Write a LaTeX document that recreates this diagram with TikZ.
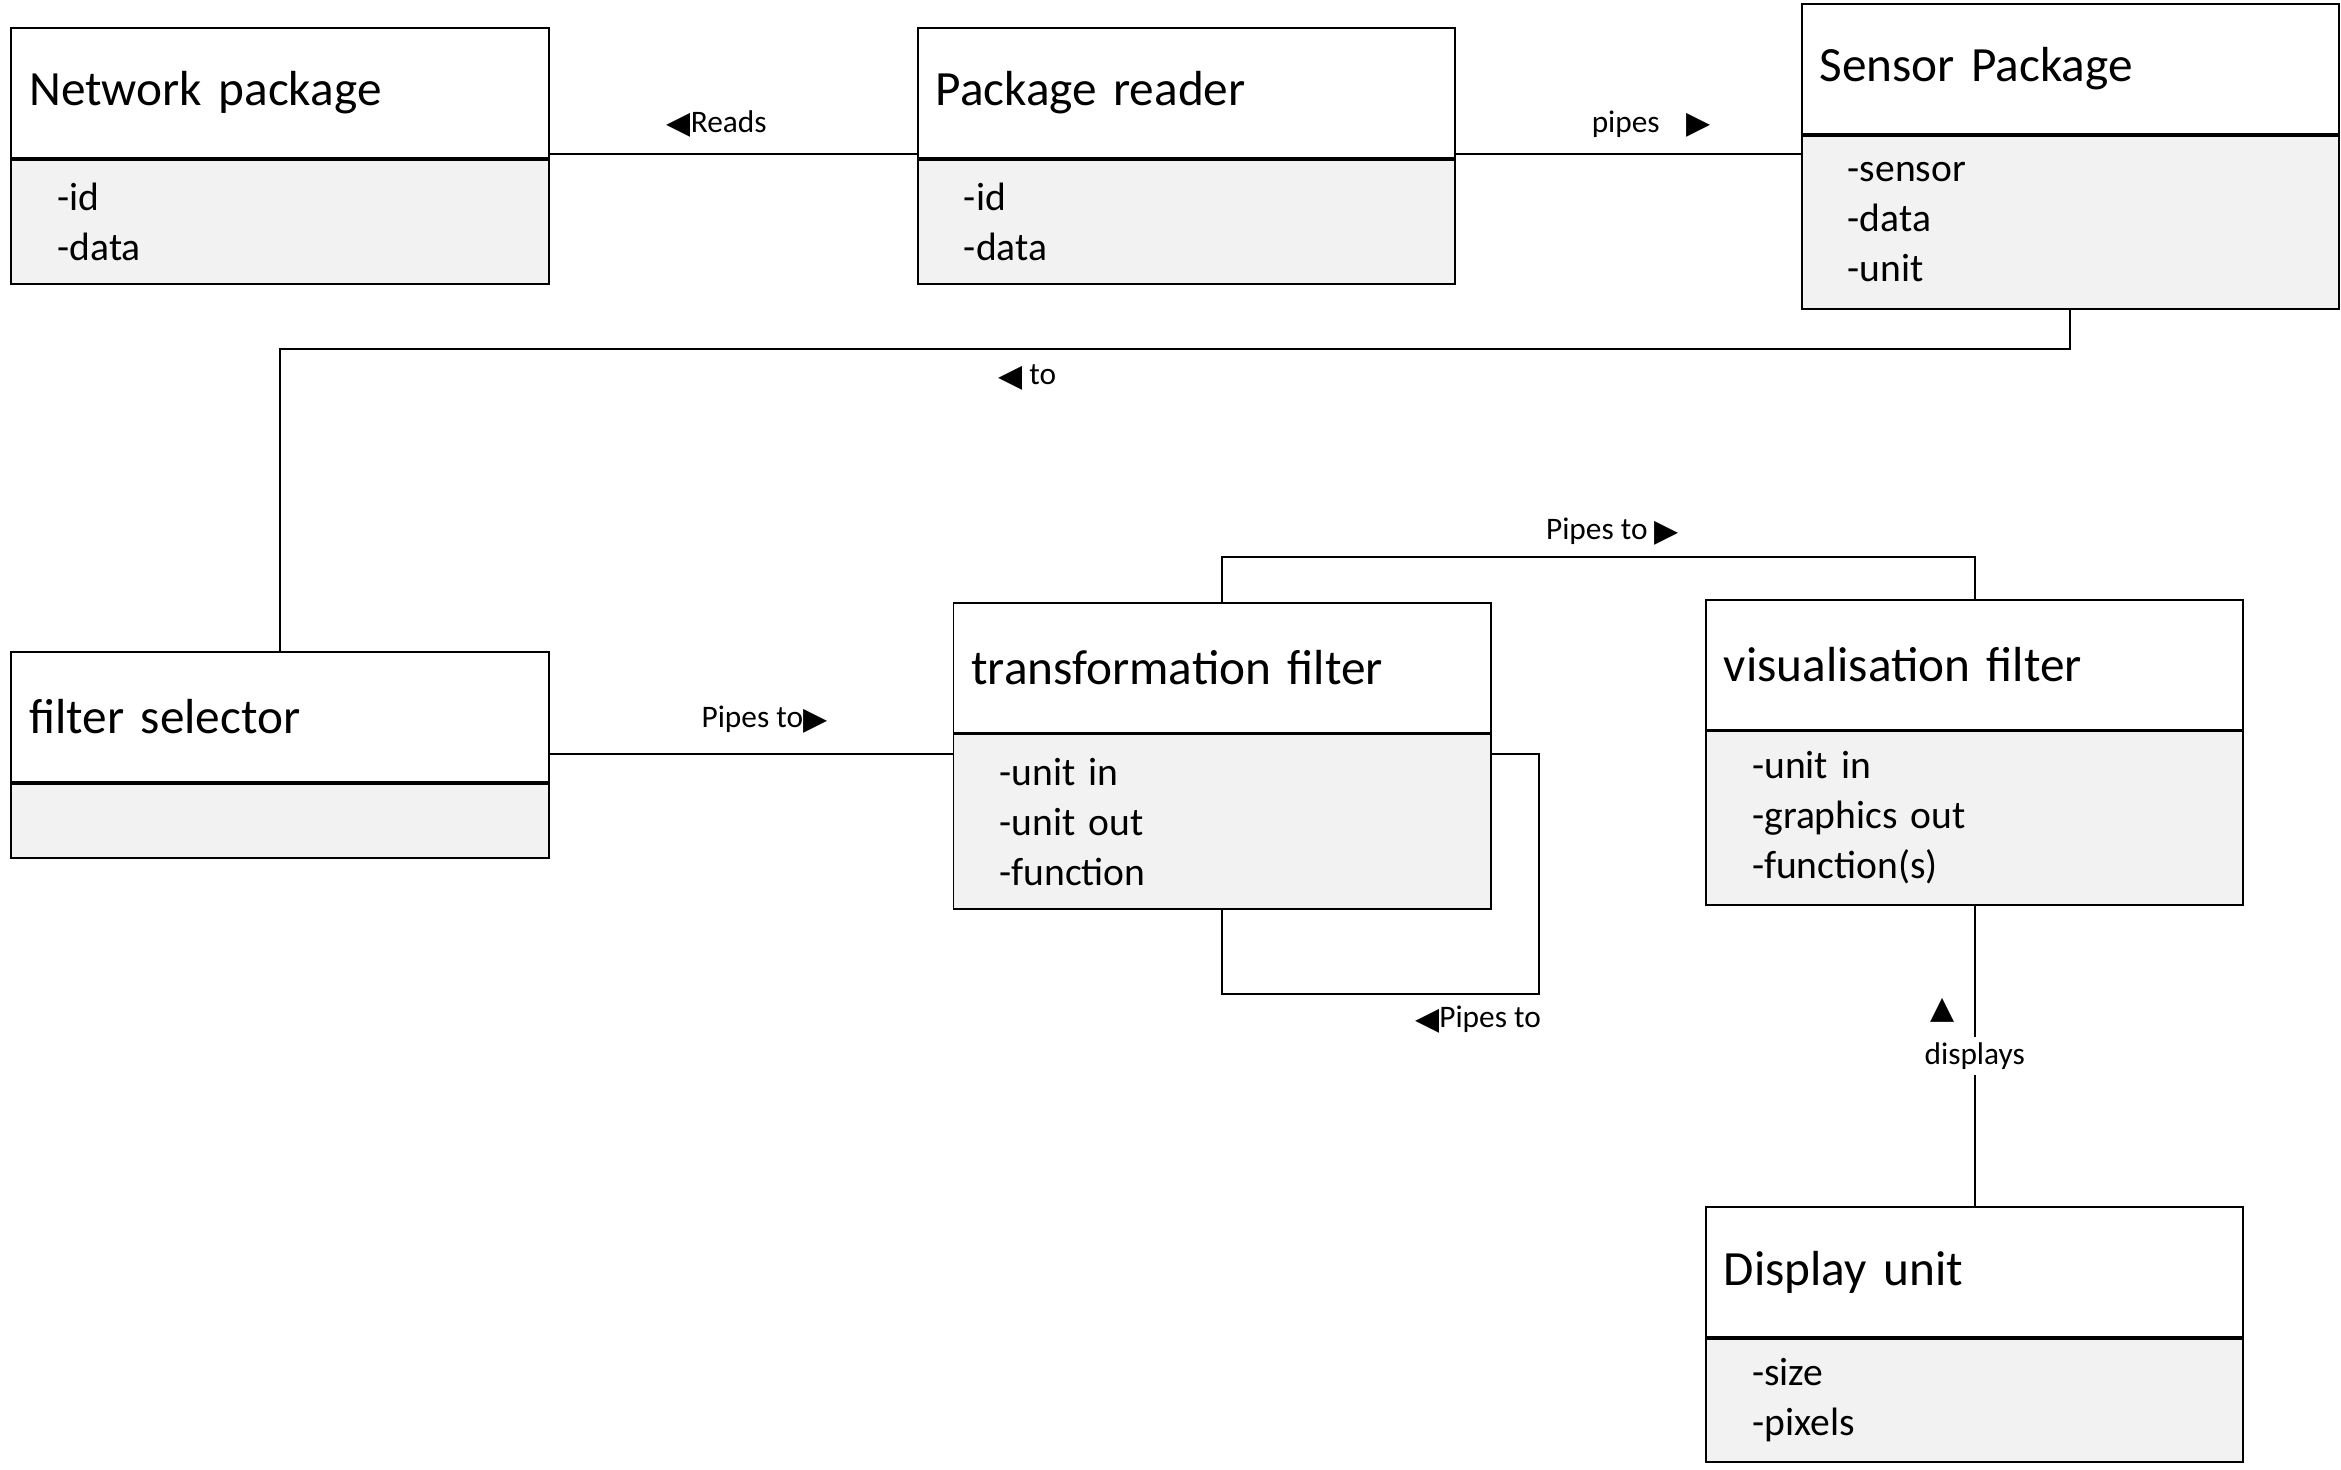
\documentclass[tikz,border=0pt]{standalone}
\usepackage{fontspec}
\setmainfont{Carlito}
\newfontfamily\symfont{DejaVu Sans}
\definecolor{attrgray}{HTML}{F2F2F2}
\newcommand{\mytriL}{{\symfont\fontsize{21}{21}\selectfont\raisebox{-1pt}{◀}}}
\newcommand{\mytriR}{{\symfont\fontsize{21}{21}\selectfont\raisebox{-1pt}{▶}}}
\newcommand{\mytriU}{{\symfont\fontsize{21}{21}\selectfont ▲}}
\tikzset{
  ttl/.style={draw, line width=1.3pt, fill=white, anchor=north west,
    minimum width=360pt, minimum height=87pt, text width=336pt,
    inner xsep=12pt, inner ysep=0pt, align=left,
    font=\fontsize{33}{38}\selectfont},
  attr/.style={draw, line width=1.3pt, fill=attrgray, anchor=north,
    minimum width=360pt, minimum height=#1, text width=298pt,
    inner xsep=31pt, inner ysep=0pt, align=left,
    font=\fontsize{26.5}{33.5}\selectfont},
  conn/.style={line width=1.3pt},
  lbl/.style={inner sep=1pt, font=\fontsize{21}{24}\selectfont}
}
\begin{document}
\begin{tikzpicture}[x=1pt,y=-1pt]
\useasboundingbox[fill=white] (0,0) rectangle (1568,984);

% classes
\node[ttl] (npT) at (7,18) {Network package};
\node[attr=83pt] (npA) at (npT.south) {-id\\-data};

\node[ttl] (prT) at (614,18) {Package reader};
\node[attr=83pt] (prA) at (prT.south) {-id\\-data};

\node[ttl] (spT) at (1206,2) {Sensor Package};
\node[attr=116pt] (spA) at (spT.south) {-sensor\\-data\\-unit};

\node[ttl] (fsT) at (7,436) {filter selector};
\node[attr=50pt] (fsA) at (fsT.south) {};

\node[ttl] (tfT) at (638,403) {transformation filter};
\node[attr=117pt] (tfA) at (tfT.south) {-unit in\\-unit out\\-function};

\node[ttl] (vfT) at (1142,401) {visualisation filter};
\node[attr=116pt] (vfA) at (vfT.south) {-unit in\\-graphics out\\-function(s)};

\node[ttl] (duT) at (1142,808) {Display unit};
\node[attr=82pt] (duA) at (duT.south) {-size\\-pixels};

% helper coordinates
\coordinate (toY) at (0,234);
\coordinate (fsY) at (0,505);
\coordinate (loopC) at (1031,666);
\coordinate (topY) at (0,373);

% connectors
\draw[conn] ([yshift=3pt]npT.south east) -- ([yshift=3pt]prT.south west);
\draw[conn] ([yshift=3pt]prT.south east) -- ([yshift=3pt]prT.south east -| spA.west);
\draw[conn] (spA.south) |- (toY -| fsT.north) -- (fsT.north);
\draw[conn] (fsT.east |- fsY) -- (tfA.west |- fsY);
\draw[conn] (tfA.east |- fsY) -| (loopC) -| (tfA.south);
\draw[conn] (tfT.north) |- (topY -| vfT.north) -- (vfT.north);
\draw[conn] (vfA.south) -- node[lbl, fill=white, pos=0.5, inner ysep=4pt] (lDisp) {displays} (duT.north);

% labels
\node[lbl] (lReads) at (480,83) {\mytriL Reads};
\node[lbl] (lPipes) at (1106,83) {pipes\hspace{18pt}\mytriR};
\node[lbl] (lTo) at (688,253) {\mytriL\ to};
\node[lbl] (lPipes1) at (512,482) {Pipes to\mytriR};
\node[lbl] (lPipes2) at (1080,356) {Pipes to \mytriR};
\node[lbl] (lPipes3) at (990,683) {\mytriL Pipes to};
\node[lbl] (lTriU) at (1301,677) {\mytriU};
\end{tikzpicture}
\end{document}
